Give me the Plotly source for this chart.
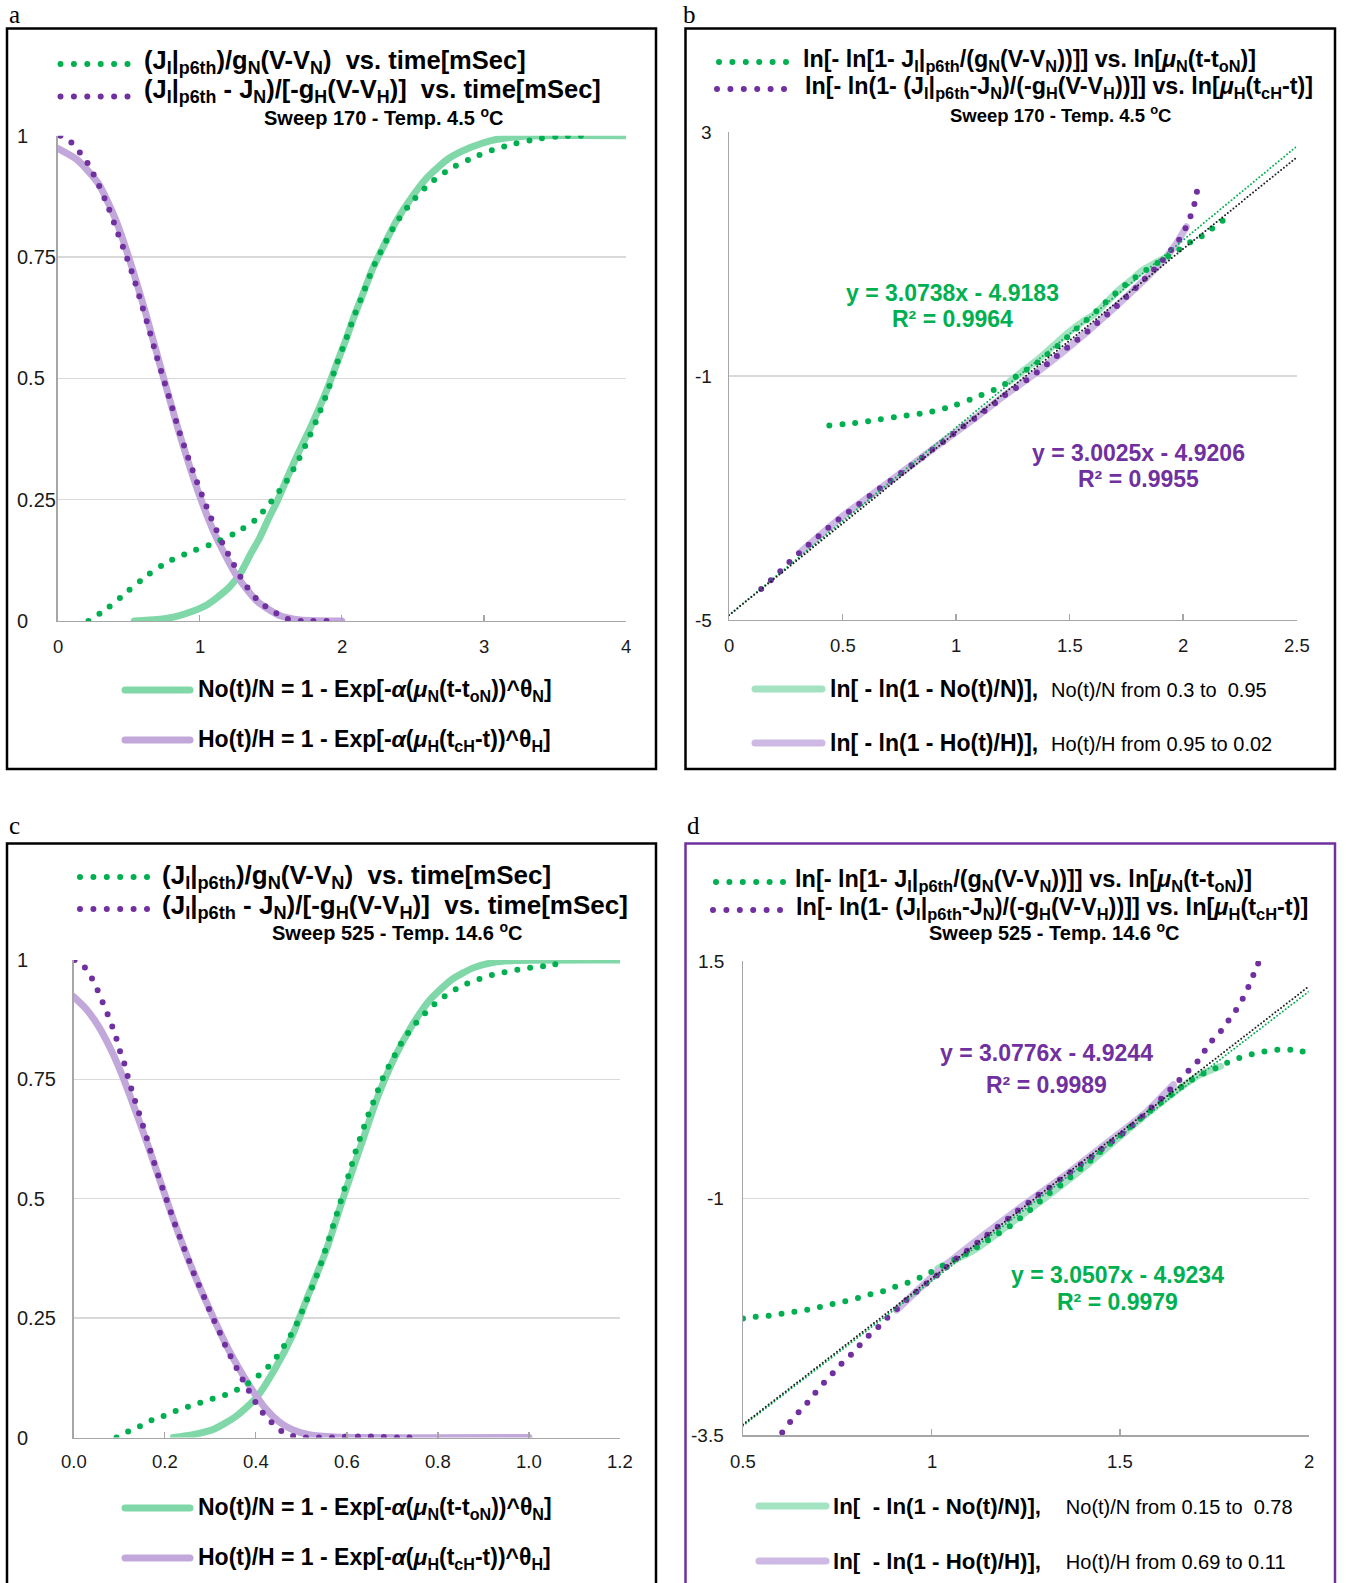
import plotly.graph_objects as go

# ---------------- data ----------------
# (a) Sweep 170, normalised currents vs time [ms]
A_DATA_N_T = [0.217, 0.358, 0.497, 0.636, 0.777, 0.931, 1.087, 1.244, 1.389, 1.503, 1.611, 1.699, 1.774,
              1.843, 1.907, 1.964, 2.027, 2.087, 2.154, 2.217, 2.295, 2.380, 2.485, 2.605, 2.747, 2.901,
              3.057, 3.223, 3.389, 3.554, 3.711]
A_DATA_N_Y = [0.0, 0.028, 0.062, 0.095, 0.122, 0.142, 0.159, 0.180, 0.208, 0.246, 0.288, 0.334, 0.381,
              0.429, 0.479, 0.529, 0.578, 0.628, 0.678, 0.726, 0.773, 0.819, 0.861, 0.898, 0.929, 0.952,
              0.970, 0.984, 0.994, 0.999, 1.0]
A_FIT_N_T = [0.54, 0.70, 0.83, 0.95, 1.05, 1.13, 1.21, 1.29, 1.36, 1.42, 1.48, 1.55, 1.62, 1.70, 1.774,
             1.843, 1.907, 1.964, 2.027, 2.087, 2.154, 2.217, 2.295, 2.38, 2.485, 2.605, 2.747, 2.90,
             3.05, 3.20, 3.40, 4.0]
A_FIT_N_Y = [0.0, 0.003, 0.009, 0.02, 0.033, 0.05, 0.07, 0.10, 0.139, 0.17, 0.208, 0.25, 0.298, 0.35,
             0.395, 0.44, 0.485, 0.53, 0.578, 0.628, 0.678, 0.726, 0.773, 0.822, 0.87, 0.915, 0.952,
             0.975, 0.99, 0.997, 1.0, 1.0]
A_DATA_H_T = [0.02, 0.096, 0.21, 0.29, 0.36, 0.42, 0.485, 0.54, 0.593, 0.645, 0.693, 0.744, 0.798, 0.849,
              0.904, 0.967, 1.03, 1.096, 1.166, 1.235, 1.307, 1.407, 1.488, 1.566, 1.639, 1.723, 1.90]
A_DATA_H_Y = [1.0, 0.986, 0.944, 0.898, 0.85, 0.802, 0.751, 0.703, 0.651, 0.6, 0.549, 0.5, 0.448, 0.397,
              0.349, 0.297, 0.249, 0.201, 0.157, 0.119, 0.081, 0.043, 0.025, 0.012, 0.002, 0.0, 0.0]
A_FIT_H_T = [0.0, 0.14, 0.29, 0.41, 0.50, 0.62, 0.744, 0.864, 0.985, 1.105, 1.256, 1.407, 1.557, 1.71, 2.0]
A_FIT_H_Y = [0.974, 0.95, 0.90, 0.826, 0.75, 0.634, 0.503, 0.38, 0.27, 0.18, 0.095, 0.04, 0.012, 0.002, 0.0]

# (b) Sweep 170, double-log linearisation
B_DATA_N_X = [0.442, 0.554, 0.664, 0.774, 0.884, 0.994, 1.099, 1.199, 1.247, 1.294, 1.342, 1.383, 1.427,
              1.471, 1.512, 1.556, 1.598, 1.636, 1.679, 1.721, 1.763, 1.806, 1.85, 1.892, 1.934, 1.977,
              2.019, 2.061, 2.102, 2.138, 2.178, 2.20]
B_DATA_N_Y = [-1.81, -1.77, -1.71, -1.65, -1.59, -1.48, -1.33, -1.17, -1.05, -0.93, -0.83, -0.70, -0.57,
              -0.43, -0.28, -0.14, -0.01, 0.127, 0.28, 0.417, 0.553, 0.66, 0.77, 0.865, 0.963, 1.06,
              1.17, 1.258, 1.334, 1.455, 1.564, 1.73]
B_FIT_N_X = [1.237, 1.30, 1.36, 1.43, 1.493, 1.56, 1.607, 1.66, 1.72, 1.78, 1.815, 1.87, 1.93]
B_FIT_N_Y = [-1.085, -0.90, -0.73, -0.50, -0.29, -0.10, 0.007, 0.20, 0.42, 0.60, 0.72, 0.84, 0.95]
B_DATA_H_X = [0.142, 0.184, 0.226, 0.266, 0.307, 0.349, 0.393, 0.436, 0.48, 0.526, 0.569, 0.615, 0.66,
              0.706, 0.751, 0.797, 0.843, 0.886, 0.932, 0.977, 1.023, 1.07, 1.114, 1.161, 1.205, 1.25,
              1.294, 1.338, 1.383, 1.427, 1.471, 1.512, 1.556, 1.598, 1.639, 1.683, 1.725, 1.765, 1.806,
              1.846, 1.886, 1.922, 1.954, 1.987, 2.013, 2.036, 2.052, 2.063]
B_DATA_H_Y = [-4.49, -4.35, -4.20, -4.05, -3.91, -3.77, -3.63, -3.49, -3.36, -3.23, -3.11, -2.98, -2.85,
              -2.73, -2.61, -2.48, -2.36, -2.23, -2.11, -1.98, -1.85, -1.73, -1.60, -1.48, -1.34, -1.23,
              -1.11, -0.99, -0.86, -0.72, -0.59, -0.47, -0.34, -0.21, -0.07, 0.06, 0.21, 0.35, 0.50,
              0.65, 0.80, 0.95, 1.10, 1.26, 1.44, 1.65, 1.85, 2.06]
B_FIT_H_X = [0.317, 0.50, 0.70, 0.90, 1.076, 1.209, 1.38, 1.569, 1.759, 1.911, 1.968, 2.015]
B_FIT_H_Y = [-3.88, -3.30, -2.75, -2.19, -1.71, -1.33, -0.87, -0.30, 0.33, 0.89, 1.16, 1.45]
B_TREND_SLOPE = [3.0738, 3.0025]      # [N, H]
B_TREND_INTERCEPT = [-4.9183, -4.9206]
B_TREND_R2 = [0.9964, 0.9955]

# (c) Sweep 525, normalised currents vs time [ms]
C_DATA_N_T = [0.094, 0.12, 0.146, 0.171, 0.197, 0.223, 0.25, 0.276, 0.302, 0.329, 0.355, 0.381, 0.404,
              0.425, 0.443, 0.459, 0.474, 0.488, 0.499, 0.51, 0.521, 0.531, 0.541, 0.55, 0.559, 0.567,
              0.576, 0.584, 0.592, 0.6, 0.609, 0.616, 0.625, 0.634, 0.643, 0.653, 0.664, 0.674, 0.685,
              0.699, 0.712, 0.726, 0.743, 0.761, 0.781, 0.801, 0.824, 0.849, 0.874, 0.901, 0.928, 0.955,
              0.984, 1.011, 1.039, 1.067]
C_DATA_N_Y = [0.0, 0.013, 0.024, 0.036, 0.045, 0.055, 0.064, 0.072, 0.08, 0.088, 0.098, 0.112, 0.128,
              0.146, 0.165, 0.187, 0.21, 0.234, 0.258, 0.283, 0.308, 0.332, 0.358, 0.385, 0.41, 0.435,
              0.462, 0.487, 0.512, 0.538, 0.564, 0.59, 0.615, 0.64, 0.665, 0.69, 0.716, 0.741, 0.765,
              0.789, 0.813, 0.836, 0.858, 0.878, 0.897, 0.915, 0.93, 0.944, 0.955, 0.963, 0.971, 0.976,
              0.981, 0.985, 0.988, 0.993]
C_FIT_N_T = [0.219, 0.262, 0.309, 0.356, 0.40, 0.441, 0.479, 0.517, 0.555, 0.593, 0.63, 0.668, 0.706,
             0.744, 0.782, 0.829, 0.876, 0.923, 0.971, 1.2]
C_FIT_N_Y = [0.0, 0.006, 0.018, 0.044, 0.082, 0.142, 0.211, 0.302, 0.393, 0.505, 0.609, 0.714, 0.798,
             0.864, 0.916, 0.958, 0.983, 0.995, 0.999, 1.0]
C_DATA_H_T = [0.002, 0.022, 0.038, 0.051, 0.062, 0.073, 0.083, 0.092, 0.099, 0.109, 0.116, 0.124, 0.132,
              0.141, 0.149, 0.158, 0.165, 0.174, 0.182, 0.191, 0.2, 0.21, 0.218, 0.229, 0.238, 0.249,
              0.259, 0.269, 0.281, 0.291, 0.302, 0.314, 0.326, 0.337, 0.35, 0.363, 0.376, 0.39, 0.405,
              0.422, 0.442, 0.463, 0.491, 0.519, 0.547, 0.576, 0.604, 0.632, 0.661, 0.687, 0.715, 0.744]
C_DATA_H_Y = [1.0, 0.987, 0.965, 0.94, 0.915, 0.89, 0.865, 0.842, 0.816, 0.791, 0.765, 0.739, 0.713,
              0.687, 0.662, 0.636, 0.611, 0.584, 0.559, 0.534, 0.508, 0.483, 0.457, 0.431, 0.406, 0.381,
              0.356, 0.331, 0.307, 0.283, 0.258, 0.234, 0.209, 0.184, 0.16, 0.136, 0.113, 0.089, 0.065,
              0.044, 0.025, 0.009, 0.001, 0.0, 0.0, 0.0, 0.002, 0.002, 0.002, 0.001, 0.0, 0.0]
C_FIT_H_T = [0.0, 0.026, 0.054, 0.082, 0.105, 0.125, 0.145, 0.167, 0.196, 0.224, 0.253, 0.281, 0.309,
             0.337, 0.366, 0.394, 0.422, 0.451, 0.479, 0.517, 0.574, 1.0]
C_FIT_H_Y = [0.923, 0.899, 0.862, 0.812, 0.762, 0.712, 0.66, 0.601, 0.52, 0.443, 0.37, 0.306, 0.246,
             0.19, 0.14, 0.097, 0.06, 0.033, 0.017, 0.006, 0.001, 0.0]

# (d) Sweep 525, double-log linearisation
D_DATA_N_X = [0.5, 0.532, 0.565, 0.598, 0.632, 0.666, 0.7, 0.734, 0.767, 0.799, 0.831, 0.865, 0.898,
              0.931, 0.962, 0.994, 1.022, 1.05, 1.081, 1.112, 1.143, 1.171, 1.199, 1.226, 1.254, 1.28,
              1.308, 1.334, 1.359, 1.385, 1.411, 1.437, 1.462, 1.489, 1.516, 1.542, 1.567, 1.594, 1.621,
              1.647, 1.675, 1.706, 1.738, 1.769, 1.798, 1.831, 1.863, 1.897, 1.931, 1.965, 2.0]
D_DATA_N_Y = [-2.268, -2.25, -2.24, -2.22, -2.20, -2.18, -2.15, -2.12, -2.09, -2.06, -2.02, -1.99, -1.94,
              -1.90, -1.85, -1.79, -1.73, -1.67, -1.61, -1.54, -1.46, -1.39, -1.32, -1.24, -1.15, -1.06,
              -0.96, -0.89, -0.81, -0.725, -0.64, -0.55, -0.465, -0.38, -0.285, -0.20, -0.12, -0.035,
              0.046, 0.127, 0.208, 0.285, 0.342, 0.398, 0.454, 0.496, 0.532, 0.556, 0.567, 0.56, 0.532]
D_FIT_N_X = [1.017, 1.114, 1.205, 1.307, 1.408, 1.511, 1.624, 1.704, 1.766]
D_FIT_N_Y = [-1.74, -1.545, -1.28, -0.98, -0.665, -0.31, 0.056, 0.285, 0.39]
D_DATA_H_X = [0.604, 0.625, 0.647, 0.67, 0.69, 0.714, 0.737, 0.76, 0.784, 0.807, 0.831, 0.856, 0.88,
              0.905, 0.931, 0.956, 0.983, 1.01, 1.036, 1.062, 1.089, 1.115, 1.143, 1.169, 1.196, 1.222,
              1.25, 1.277, 1.306, 1.332, 1.36, 1.387, 1.415, 1.442, 1.469, 1.497, 1.522, 1.548, 1.574,
              1.599, 1.624, 1.647, 1.671, 1.695, 1.718, 1.732, 1.756, 1.775, 1.796, 1.815, 1.832, 1.846,
              1.858, 1.87]
D_DATA_H_Y = [-3.47, -3.36, -3.26, -3.16, -3.06, -2.95, -2.85, -2.75, -2.66, -2.56, -2.46, -2.37, -2.27,
              -2.18, -2.08, -2.0, -1.91, -1.83, -1.74, -1.65, -1.57, -1.49, -1.40, -1.32, -1.24, -1.15,
              -1.07, -0.98, -0.91, -0.83, -0.75, -0.67, -0.595, -0.51, -0.43, -0.35, -0.27, -0.18, -0.08,
              0.01, 0.11, 0.204, 0.30, 0.40, 0.497, 0.62, 0.70, 0.806, 0.92, 1.03, 1.155, 1.28, 1.40, 1.51]
D_FIT_H_X = [0.907, 1.021, 1.135, 1.249, 1.362, 1.476, 1.567, 1.641]
D_FIT_H_Y = [-2.18, -1.76, -1.40, -1.06, -0.736, -0.384, -0.10, 0.197]
D_TREND_SLOPE = [3.0507, 3.0776]      # [N, H]
D_TREND_INTERCEPT = [-4.9234, -4.9244]
D_TREND_R2 = [0.9979, 0.9989]

# axis ranges and tick labels
A_XRANGE, A_YRANGE = [0, 4], [0, 1]
B_XRANGE, B_YRANGE = [0, 2.5], [-5, 3]
C_XRANGE, C_YRANGE = [0, 1.2], [0, 1]
D_XRANGE, D_YRANGE = [0.5, 2.0], [-3.5, 1.5]
A_XTICKS, A_XLABELS = [0, 1, 2, 3, 4], ["0", "1", "2", "3", "4"]
A_YTICKS, A_YLABELS = [0, 0.25, 0.5, 0.75, 1], ["0", "0.25", "0.5", "0.75", "1"]
B_XTICKS, B_XLABELS = [0, 0.5, 1, 1.5, 2, 2.5], ["0", "0.5", "1", "1.5", "2", "2.5"]
B_YTICKS, B_YLABELS = [-5, -1, 3], ["-5", "-1", "3"]
C_XTICKS, C_XLABELS = [0, 0.2, 0.4, 0.6, 0.8, 1.0, 1.2], ["0.0", "0.2", "0.4", "0.6", "0.8", "1.0", "1.2"]
C_YTICKS, C_YLABELS = [0, 0.25, 0.5, 0.75, 1], ["0", "0.25", "0.5", "0.75", "1"]
D_XTICKS, D_XLABELS = [0.5, 1, 1.5, 2], ["0.5", "1", "1.5", "2"]
D_YTICKS, D_YLABELS = [-3.5, -1, 1.5], ["-3.5", "-1", "1.5"]

# ---------------- styling ----------------
W, H = 1346, 1583


def px(x):
    return x / W


def py(y):
    return 1 - y / H


FONT = "Liberation Sans, Arial, sans-serif"
SERIF = "Liberation Serif, Times New Roman, serif"
GREEN = "#00B050"
PURPLE = "#7030A0"
GREEN_FIT = "#80D8A8"
PURPLE_FIT = "#C2A7DB"
GREEN_FIT_LN = "#A4E3C1"
PURPLE_FIT_LN = "#CDB9E3"
TREND_DARK = "#1E1E1E"
GRID = "#D9D9D9"
AXIS = "#A6A6A6"
DOT_DASH = "0px,13px"
DOT_W = 6

fig = go.Figure()


def fit_line(x, y, color, ax):
    fig.add_trace(go.Scatter(x=x, y=y, mode="lines", xaxis="x" + ax, yaxis="y" + ax,
                             line=dict(color=color, width=7, shape="spline", smoothing=0.6),
                             showlegend=False, hoverinfo="skip"))


def dot_line(x, y, color, ax):
    fig.add_trace(go.Scatter(x=x, y=y, mode="lines", xaxis="x" + ax, yaxis="y" + ax,
                             line=dict(color=color, width=DOT_W, dash=DOT_DASH, shape="spline",
                                       smoothing=0.6),
                             showlegend=False, hoverinfo="skip"))


def trend_line(slope, intercept, xr, color, ax):
    xs = list(xr)
    ys = [slope * v + intercept for v in xs]
    fig.add_trace(go.Scatter(x=xs, y=ys, mode="lines", xaxis="x" + ax, yaxis="y" + ax,
                             line=dict(color=color, width=2, dash="0px,3.6px"),
                             showlegend=False, hoverinfo="skip"))


# panel a  (axis suffix "")
fit_line(A_FIT_N_T, A_FIT_N_Y, GREEN_FIT, "")
fit_line(A_FIT_H_T, A_FIT_H_Y, PURPLE_FIT, "")
dot_line(A_DATA_N_T, A_DATA_N_Y, GREEN, "")
dot_line(A_DATA_H_T, A_DATA_H_Y, PURPLE, "")
# panel b
fit_line(B_FIT_H_X, B_FIT_H_Y, PURPLE_FIT_LN, "2")
fit_line(B_FIT_N_X, B_FIT_N_Y, GREEN_FIT_LN, "2")
dot_line(B_DATA_N_X, B_DATA_N_Y, GREEN, "2")
dot_line(B_DATA_H_X, B_DATA_H_Y, PURPLE, "2")
trend_line(B_TREND_SLOPE[0], B_TREND_INTERCEPT[0], B_XRANGE, GREEN, "2")
trend_line(B_TREND_SLOPE[1], B_TREND_INTERCEPT[1], B_XRANGE, TREND_DARK, "2")
# panel c
fit_line(C_FIT_N_T, C_FIT_N_Y, GREEN_FIT, "3")
fit_line(C_FIT_H_T, C_FIT_H_Y, PURPLE_FIT, "3")
dot_line(C_DATA_N_T, C_DATA_N_Y, GREEN, "3")
dot_line(C_DATA_H_T, C_DATA_H_Y, PURPLE, "3")
# panel d
fit_line(D_FIT_N_X, D_FIT_N_Y, GREEN_FIT_LN, "4")
fit_line(D_FIT_H_X, D_FIT_H_Y, PURPLE_FIT_LN, "4")
dot_line(D_DATA_N_X, D_DATA_N_Y, GREEN, "4")
dot_line(D_DATA_H_X, D_DATA_H_Y, PURPLE, "4")
trend_line(D_TREND_SLOPE[0], D_TREND_INTERCEPT[0], D_XRANGE, GREEN, "4")
trend_line(D_TREND_SLOPE[1], D_TREND_INTERCEPT[1], D_XRANGE, TREND_DARK, "4")

# plot-area boxes in pixels: (left, right, top, bottom)
BOX = {
    "": (57.6, 626.0, 135.7, 621.0),
    "2": (729.0, 1296.5, 132.3, 620.0),
    "3": (73.7, 620.0, 960.0, 1437.5),
    "4": (743.0, 1308.7, 961.0, 1435.3),
}
RANGES = {"": (A_XRANGE, A_YRANGE, A_XTICKS, A_YTICKS),
          "2": (B_XRANGE, B_YRANGE, B_XTICKS, B_YTICKS),
          "3": (C_XRANGE, C_YRANGE, C_XTICKS, C_YTICKS),
          "4": (D_XRANGE, D_YRANGE, D_XTICKS, D_YTICKS)}

layout_axes = {}
for k, (l, r, t, b) in BOX.items():
    xr, yr, xt, yt = RANGES[k]
    layout_axes["xaxis" + k] = dict(domain=[px(l), px(r)], range=xr, anchor="y" + k,
                                    tickvals=xt, showticklabels=False, ticks="inside",
                                    ticklen=6, tickwidth=1.3, tickcolor=AXIS, showline=True,
                                    linecolor=AXIS, linewidth=1.3, showgrid=False, zeroline=False,
                                    fixedrange=True)
    layout_axes["yaxis" + k] = dict(domain=[py(b), py(t)], range=yr, anchor="x" + k,
                                    tickvals=yt, showticklabels=False, ticks="", showline=True,
                                    linecolor=AXIS, linewidth=1.3, showgrid=True, gridcolor=GRID,
                                    gridwidth=1.3, zeroline=False, fixedrange=True)

ann = []


def text(x, y, s, size, color="black", anchor="left", family=FONT):
    ann.append(dict(x=px(x), y=py(y), xref="paper", yref="paper", text=s, showarrow=False,
                    xanchor=anchor, yanchor="middle",
                    font=dict(family=family, size=size, color=color)))


# tick labels through each axis' own scale
def xtick_labels(ax, vals, labels, ypix):
    for v, s in zip(vals, labels):
        ann.append(dict(x=v, xref="x" + ax, y=py(ypix), yref="paper", text=s, showarrow=False,
                        xanchor="center", yanchor="middle", font=dict(family=FONT, size=18.5, color="#1a1a1a")))


def ytick_labels(ax, vals, labels, xpix, anchor, size):
    for v, s in zip(vals, labels):
        ann.append(dict(x=px(xpix), xref="paper", y=v, yref="y" + ax, text=s, showarrow=False,
                        xanchor=anchor, yanchor="middle", font=dict(family=FONT, size=size, color="#1a1a1a")))


xtick_labels("", A_XTICKS, A_XLABELS, 646)
ytick_labels("", A_YTICKS, A_YLABELS, 15, "left", 20)
xtick_labels("2", B_XTICKS, B_XLABELS, 645.5)
ytick_labels("2", B_YTICKS, B_YLABELS, 714, "right", 19)
xtick_labels("3", C_XTICKS, C_XLABELS, 1461.5)
ytick_labels("3", C_YTICKS, C_YLABELS, 15, "left", 20)
xtick_labels("4", D_XTICKS, D_XLABELS, 1461.5)
ytick_labels("4", D_YTICKS, D_YLABELS, 726, "right", 19)

# panel letters
text(14, 14.5, "a", 25, family=SERIF, anchor="center")
text(690, 14.5, "b", 25, family=SERIF, anchor="center")
text(14, 825, "c", 25, family=SERIF, anchor="center")
text(694, 825, "d", 25, family=SERIF, anchor="center")

sp = "&nbsp;"
T_A1 = "<b>(J<sub>I</sub>|<sub>p6th</sub>)/g<sub>N</sub>(V-V<sub>N</sub>)" + sp + " vs. time[mSec]</b>"
T_A2 = ("<b>(J<sub>I</sub>|<sub>p6th</sub> - J<sub>N</sub>)/[-g<sub>H</sub>(V-V<sub>H</sub>)]" + sp +
        " vs. time[mSec]</b>")
T_B1 = ("<b>ln[- ln[1- J<sub>I</sub>|<sub>p6th</sub>/(g<sub>N</sub>(V-V<sub>N</sub>))]] vs. "
        "ln[<i>μ</i><sub>N</sub>(t-t<sub>oN</sub>)]</b>")
T_B2 = ("<b>ln[- ln(1- (J<sub>I</sub>|<sub>p6th</sub>-J<sub>N</sub>)/(-g<sub>H</sub>(V-V<sub>H</sub>))]] vs. "
        "ln[<i>μ</i><sub>H</sub>(t<sub>cH</sub>-t)]</b>")
T_N_FIT = "<b>No(t)/N = 1 - Exp[-<i>α</i>(<i>μ</i><sub>N</sub>(t-t<sub>oN</sub>))^θ<sub>N</sub>]</b>"
T_H_FIT = "<b>Ho(t)/H = 1 - Exp[-<i>α</i>(<i>μ</i><sub>H</sub>(t<sub>cH</sub>-t))^θ<sub>H</sub>]</b>"
SWEEP_AB = "<b>Sweep 170 - Temp. 4.5 <sup>o</sup>C</b>"
SWEEP_CD = "<b>Sweep 525 - Temp. 14.6 <sup>o</sup>C</b>"

shapes = []


def sample(x0, x1, y, color, dotted):
    if dotted:
        line = dict(color=color, width=DOT_W, dash="0px,13.4px")
    else:
        line = dict(color=color, width=7)
    shapes.append(dict(type="line", xref="paper", yref="paper", x0=px(x0), x1=px(x1),
                       y0=py(y), y1=py(y), line=line))


# panel frames
shapes.append(dict(type="rect", xref="paper", yref="paper", x0=px(7), x1=px(656), y0=py(769), y1=py(28.5),
                   line=dict(color="black", width=2.5)))
shapes.append(dict(type="rect", xref="paper", yref="paper", x0=px(685.5), x1=px(1335), y0=py(769),
                   y1=py(28.5), line=dict(color="black", width=2.5)))
shapes.append(dict(type="rect", xref="paper", yref="paper", x0=px(7), x1=px(656), y0=py(1620), y1=py(843.5),
                   line=dict(color="black", width=2.5)))
shapes.append(dict(type="rect", xref="paper", yref="paper", x0=px(685.5), x1=px(1335), y0=py(1620),
                   y1=py(843.5), line=dict(color=PURPLE, width=2.5)))

# panel a legends
sample(60.5, 127.5, 64, GREEN, True)
sample(60.5, 127.5, 96.5, PURPLE, True)
text(142, 62, T_A1, 25.5)
text(142, 91, T_A2, 25.5)
text(383, 116, SWEEP_AB, 20, anchor="center")
sample(125, 190, 690, GREEN_FIT, False)
sample(125, 190, 740, PURPLE_FIT, False)
text(196, 690, T_N_FIT, 23)
text(196, 740, T_H_FIT, 23)

# panel b legends
sample(719, 787, 62, GREEN, True)
sample(717, 785, 89, PURPLE, True)
text(801, 61, T_B1, 23.3)
text(803, 87.5, T_B2, 23.3)
text(1060, 114, SWEEP_AB, 18.5, anchor="center")
sample(755, 822, 689, GREEN_FIT_LN, False)
sample(755, 822, 743, PURPLE_FIT_LN, False)
text(828, 689, "<b>ln[ - ln(1 - No(t)/N)],</b>" + sp + " <span style='font-size:20px'>No(t)/N from 0.3 to" + sp + " 0.95</span>", 23)
text(828, 743, "<b>ln[ - ln(1 - Ho(t)/H)],</b>" + sp + " <span style='font-size:20px'>Ho(t)/H from 0.95 to 0.02</span>", 23)

# panel c legends
sample(80, 148, 877, GREEN, True)
sample(80, 148, 909, PURPLE, True)
text(160, 876, T_A1, 26)
text(160, 906, T_A2, 26)
text(397, 931, SWEEP_CD, 20, anchor="center")
sample(125, 190, 1508, GREEN_FIT, False)
sample(125, 190, 1558, PURPLE_FIT, False)
text(196, 1508, T_N_FIT, 23)
text(196, 1558, T_H_FIT, 23)

# panel d legends
sample(716, 783, 882, GREEN, True)
sample(713, 780, 910, PURPLE, True)
text(793, 880, T_B1, 23.5)
text(794, 908, T_B2, 23.5)
text(1054, 931, SWEEP_CD, 20, anchor="center")
sample(759, 826, 1506, GREEN_FIT_LN, False)
sample(759, 826, 1561, PURPLE_FIT_LN, False)
text(831, 1506, "<b>ln[" + sp + " - ln(1 - No(t)/N)],</b>" + sp + sp + sp + " <span style='font-size:20px'>No(t)/N from 0.15 to" + sp + " 0.78</span>", 22.3)
text(831, 1561, "<b>ln[" + sp + " - ln(1 -" + sp + "Ho(t)/H)],</b>" + sp + sp + sp + " <span style='font-size:20px'>Ho(t)/H from 0.69 to 0.11</span>", 22.3)


# trendline equations, written from the same coefficients that draw the lines
def eq(slope, intercept):
    sign = "-" if intercept < 0 else "+"
    return f"<b>y = {slope:.4f}x {sign} {abs(intercept):.4f}</b>"


def r2(v):
    return f"<b>R² = {v:.4f}</b>"


text(952, 293, eq(B_TREND_SLOPE[0], B_TREND_INTERCEPT[0]), 23, GREEN, "center")
text(952, 319, r2(B_TREND_R2[0]), 23, GREEN, "center")
text(1138, 453, eq(B_TREND_SLOPE[1], B_TREND_INTERCEPT[1]), 23, PURPLE, "center")
text(1138, 479, r2(B_TREND_R2[1]), 23, PURPLE, "center")
text(1046, 1053, eq(D_TREND_SLOPE[1], D_TREND_INTERCEPT[1]), 23, PURPLE, "center")
text(1046, 1085, r2(D_TREND_R2[1]), 23, PURPLE, "center")
text(1117, 1275, eq(D_TREND_SLOPE[0], D_TREND_INTERCEPT[0]), 23, GREEN, "center")
text(1117, 1302, r2(D_TREND_R2[0]), 23, GREEN, "center")

fig.update_layout(
    width=W, height=H, margin=dict(l=0, r=0, t=0, b=0),
    paper_bgcolor="white", plot_bgcolor="white",
    showlegend=False, annotations=ann, shapes=shapes,
    font=dict(family=FONT, size=18, color="black"),
    **layout_axes,
)

# round line caps turn the zero-length dashes into round dots
ROUND_CAPS = ("var s=document.createElement('style');"
              "s.innerHTML='.js-line,.shapelayer path{stroke-linecap:round}';"
              "document.head.appendChild(s);")
fig.write_html("out.html", post_script=ROUND_CAPS, config={"staticPlot": True})
